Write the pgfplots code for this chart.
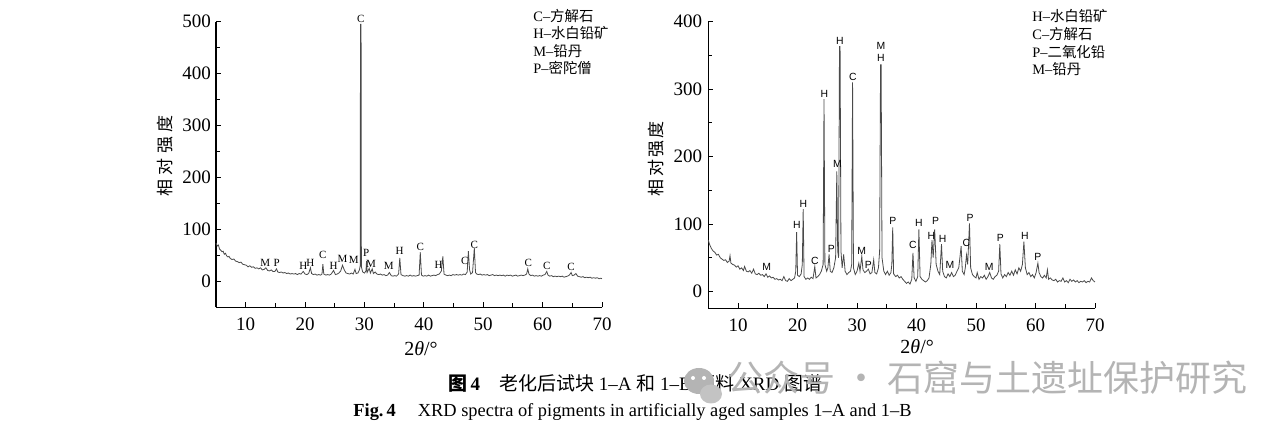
\documentclass[border=0pt]{standalone}
\usepackage{fontspec}
\setmainfont{Liberation Serif}
\newfontfamily\cjk{Noto Sans CJK SC}
\newfontfamily\cjkA[LetterSpace=25]{Noto Sans CJK SC}
\newfontfamily\cjkB[LetterSpace=12]{Noto Sans CJK SC}
\newfontfamily\arial{Liberation Sans}
\usepackage{pgfplots}
\pgfplotsset{compat=1.18}
\definecolor{plotgray}{HTML}{4A4A4A}
\definecolor{wmgray}{HTML}{B4B4B4}

\tikzset{
  lblL/.style={font=\fontsize{5.5}{6}\selectfont, inner sep=0pt},
  lblR/.style={font=\arial\fontsize{5.2}{6}\selectfont, inner sep=0pt},
  leg/.style={font=\fontsize{7.2}{8}\selectfont, inner sep=0pt, anchor=west},
}
\pgfplotsset{
  xrd/.style={
    scale only axis,
    axis x line=bottom, axis y line=left,
    axis line style={-, line width=0.6pt},
    xmin=5, xmax=70,
    xtick={10,20,...,70}, minor xtick={15,25,...,65},
    tick align=inside,
    major tick length=2.5pt, minor tick length=2pt,
    tick style={line width=0.5pt, black},
    ticklabel style={font=\fontsize{9.5}{10}\selectfont},
    xticklabel style={yshift=-2pt},
    /pgf/number format/assume math mode=true,
    xlabel={2\textit{θ}/°},
    xlabel style={font=\fontsize{10}{11}\selectfont, anchor=center},
    ylabel style={anchor=center},
    clip=false,
  },
}

\begin{document}
\begin{tikzpicture}
\path (0,0) rectangle (640pt,-215.5pt);

% ---- 1-A ----
\begin{axis}[xrd,
    at={(108pt,-153.65pt)}, anchor=south west,
    width=193pt, height=142.8pt,
    ymin=-50, ymax=500,
    ytick={0,100,...,500}, minor ytick={50,150,...,450},
    yticklabel style={xshift=1pt},
    xlabel style={at={(axis description cs:0.531,-0.146)}},
    ylabel={\cjkA\fontsize{8.5}{9}\selectfont 相对强度},
    ylabel style={at={(axis description cs:-0.132,0.530)}},
]
\addplot[color=plotgray, line width=0.4pt] table {
5.0 74
5.2 68
5.4 70
5.6 62
5.8 60
6.0 57
6.2 58
6.4 52
6.6 54
6.8 49
7.0 47
7.2 48
7.4 44
7.7 42
8.0 43
8.3 39
8.6 38
8.9 36
9.2 37
9.5 33
9.8 32
10.1 31
10.4 28
10.7 30
11.0 27
11.3 28
11.6 25
11.9 26
12.2 24
12.5 26
12.8 22
13.1 23
13.4 26
13.7 21
14.0 20
14.3 22
14.6 19
14.9 19
15.2 24
15.4 18
15.7 17
16.0 18
16.3 16
16.6 17
16.9 15
17.2 16
17.5 14
17.8 15
18.1 14
18.4 15
18.7 13
19.0 15
19.3 14
19.7 19
20.0 14
20.3 13
20.6 15
20.9 26
21.1 15
21.4 13
21.7 14
22.0 12
22.3 13
22.6 12
22.85 14
23.0 33
23.15 14
23.5 12
23.8 13
24.1 12
24.4 14
24.8 21
25.1 13
25.4 14
25.7 16
26.0 20
26.3 31
26.6 22
26.9 16
27.2 15
27.5 14
27.8 16
28.1 14
28.4 23
28.6 15
28.9 16
29.15 22
29.28 30
29.33 495
29.43 495
29.48 28
29.7 18
30.0 16
30.25 20
30.35 39
30.45 17
30.8 25
31.0 16
31.3 24
31.5 15
31.8 18
32.1 14
32.4 13
32.7 14
33.0 12
33.3 13
33.6 11
33.9 12
34.2 17
34.5 11
34.8 10
35.1 11
35.4 10
35.75 14
35.95 45
36.15 13
36.5 11
36.8 10
37.1 11
37.4 10
37.7 12
38.0 10
38.3 11
38.6 10
38.9 11
39.2 12
39.4 56
39.6 12
39.9 10
40.2 11
40.5 10
40.8 12
41.1 10
41.4 11
41.7 12
42.0 11
42.3 13
42.6 14
42.95 20
43.2 48
43.4 14
43.7 12
44.0 11
44.3 12
44.6 11
44.9 13
45.2 12
45.5 13
45.8 12
46.1 13
46.4 12
46.7 14
47.0 13
47.3 18
47.5 58
47.7 22
47.9 14
48.2 17
48.5 64
48.7 17
48.9 14
49.2 13
49.5 14
49.8 12
50.1 13
50.4 12
50.7 13
51.0 11
51.3 12
51.6 13
51.9 11
52.2 12
52.5 11
52.8 12
53.1 11
53.4 12
53.7 10
54.0 12
54.3 11
54.6 12
54.9 10
55.2 11
55.5 12
55.8 10
56.1 11
56.4 12
56.7 11
57.0 12
57.3 14
57.5 24
57.7 14
58.0 11
58.3 12
58.6 10
58.9 11
59.2 10
59.5 11
59.8 10
60.1 12
60.4 13
60.7 19
60.9 12
61.2 10
61.5 11
61.8 9
62.1 10
62.4 9
62.7 10
63.0 9
63.3 10
63.6 8
63.9 9
64.2 10
64.5 12
64.8 17
65.0 11
65.3 12
65.6 15
65.9 10
66.2 9
66.5 8
66.8 9
67.1 7
67.4 8
67.7 7
68.0 8
68.3 6
68.6 7
68.9 6
69.2 7
69.5 5
69.8 6
70.0 5
};
\node[lblL] at (axis cs:29.4,506) {C};
\node[lblL] at (axis cs:13.3,36) {M};
\node[lblL] at (axis cs:15.2,36) {P};
\node[lblL] at (axis cs:19.7,30) {H};
\node[lblL] at (axis cs:20.9,36) {H};
\node[lblL] at (axis cs:23.0,50) {C};
\node[lblL] at (axis cs:24.8,30) {H};
\node[lblL] at (axis cs:26.3,44) {M};
\node[lblL] at (axis cs:28.2,42) {M};
\node[lblL] at (axis cs:30.3,54) {P};
\node[lblL] at (axis cs:31.1,33) {M};
\node[lblL] at (axis cs:34.1,30) {M};
\node[lblL] at (axis cs:35.9,59) {H};
\node[lblL] at (axis cs:39.4,67) {C};
\node[lblL] at (axis cs:42.5,32) {H};
\node[lblL] at (axis cs:46.9,40) {C};
\node[lblL] at (axis cs:48.5,70) {C};
\node[lblL] at (axis cs:57.6,36) {C};
\node[lblL] at (axis cs:60.7,29) {C};
\node[lblL] at (axis cs:64.8,27) {C};
\end{axis}

% ---- 1-B ----
\begin{axis}[xrd,
    at={(354.15pt,-154.15pt)}, anchor=south west,
    width=193.35pt, height=143.3pt,
    ymin=-25, ymax=400,
    ytick={0,100,...,400}, minor ytick={50,150,...,350},
    yticklabel style={xshift=0.5pt},
    xlabel style={at={(axis description cs:0.54,-0.135)}},
    ylabel={\cjkB\fontsize{8.5}{9}\selectfont 相对强度},
    ylabel style={at={(axis description cs:-0.135,0.521)}},
]
\addplot[color=plotgray, line width=0.4pt] table {
5.0 76
5.2 70
5.5 64
5.8 60
6.1 58
6.4 54
6.7 55
7.0 50
7.3 48
7.6 46
7.9 47
8.2 43
8.5 45
8.65 53
8.8 42
9.1 40
9.4 39
9.7 36
10.0 38
10.3 33
10.6 35
10.9 31
11.1 37
11.4 30
11.7 29
12.0 31
12.3 27
12.6 33
12.9 26
13.2 25
13.5 27
13.8 24
14.1 25
14.4 22
14.7 26
15.0 21
15.3 23
15.6 20
15.9 21
16.2 18
16.5 19
16.8 17
17.1 18
17.4 16
17.7 22
18.0 16
18.3 15
18.6 19
18.9 16
19.2 18
19.5 20
19.7 30
19.85 88
20.0 24
20.3 22
20.6 26
20.8 40
20.95 122
21.1 22
21.4 18
21.7 20
22.0 18
22.3 21
22.6 19
22.9 37
23.1 20
23.4 22
23.7 25
24.0 30
24.3 40
24.45 285
24.6 40
24.9 30
25.1 35
25.3 55
25.5 30
25.8 28
26.1 35
26.4 50
26.6 178
26.75 60
26.9 50
27.05 363
27.15 363
27.3 60
27.5 35
27.75 55
28.0 30
28.3 25
28.6 28
28.9 30
29.1 40
29.25 310
29.4 35
29.7 25
30.0 30
30.3 42
30.5 30
30.8 52
31.0 32
31.3 28
31.6 30
31.9 33
32.2 26
32.5 28
32.8 47
33.0 28
33.3 26
33.6 35
33.8 60
33.95 336
34.05 336
34.2 50
34.5 30
34.8 25
35.1 30
35.4 24
35.7 28
35.85 40
36.0 95
36.15 26
36.5 22
36.8 24
37.1 20
37.4 22
37.7 18
38.0 15
38.3 12
38.6 14
38.9 11
39.2 18
39.4 57
39.6 20
39.9 15
40.2 22
40.4 92
40.6 22
40.9 18
41.2 16
41.5 14
41.8 16
42.1 20
42.4 40
42.6 76
42.8 50
43.05 92
43.3 40
43.6 30
43.9 25
44.2 70
44.4 30
44.7 22
45.0 20
45.3 26
45.6 22
45.9 28
46.2 22
46.5 24
46.8 30
47.1 35
47.5 67
47.7 30
48.0 25
48.2 35
48.4 54
48.6 40
48.9 101
49.1 35
49.4 25
49.7 22
50.0 20
50.2 28
50.5 18
50.8 22
51.1 20
51.4 24
51.7 18
52.0 22
52.3 28
52.6 20
52.9 18
53.2 22
53.5 24
53.8 30
54.0 70
54.2 26
54.5 20
54.8 25
55.1 22
55.4 28
55.7 24
56.0 30
56.3 24
56.6 32
56.9 26
57.2 35
57.5 30
57.8 40
58.05 74
58.3 35
58.6 25
58.9 28
59.2 22
59.5 25
59.8 20
60.1 28
60.4 42
60.6 28
60.9 22
61.2 20
61.5 24
61.8 20
62.0 32
62.2 18
62.5 20
62.8 17
63.1 16
63.4 18
63.7 14
64.0 16
64.3 15
64.6 20
64.9 14
65.2 16
65.5 13
65.8 18
66.1 15
66.4 17
66.7 14
67.0 16
67.3 13
67.6 15
67.9 14
68.2 16
68.5 13
68.8 15
69.1 14
69.4 20
69.7 16
70.0 14
};
\node[lblR] at (axis cs:14.8,36) {M};
\node[lblR] at (axis cs:19.9,98) {H};
\node[lblR] at (axis cs:21.0,130) {H};
\node[lblR] at (axis cs:22.9,45) {C};
\node[lblR] at (axis cs:24.5,293) {H};
\node[lblR] at (axis cs:25.7,63) {P};
\node[lblR] at (axis cs:26.7,189) {M};
\node[lblR] at (axis cs:27.1,371) {H};
\node[lblR] at (axis cs:29.3,318) {C};
\node[lblR] at (axis cs:30.8,60) {M};
\node[lblR] at (axis cs:31.9,39) {P};
\node[lblR] at (axis cs:34.0,364) {M};
\node[lblR] at (axis cs:34.0,347) {H};
\node[lblR] at (axis cs:36.0,104) {P};
\node[lblR] at (axis cs:39.4,69) {C};
\node[lblR] at (axis cs:40.4,102) {H};
\node[lblR] at (axis cs:42.5,83) {H};
\node[lblR] at (axis cs:43.2,105) {P};
\node[lblR] at (axis cs:44.4,78) {H};
\node[lblR] at (axis cs:45.6,39) {M};
\node[lblR] at (axis cs:48.4,72) {C};
\node[lblR] at (axis cs:49.0,109) {P};
\node[lblR] at (axis cs:52.2,36) {M};
\node[lblR] at (axis cs:54.1,79) {P};
\node[lblR] at (axis cs:58.2,83) {H};
\node[lblR] at (axis cs:60.4,51) {P};
\end{axis}

\begin{scope}[x=0.5pt, y=-0.5pt]
% legends
\node[leg] at (533,16) {C–{\cjk 方解石}};
\node[leg] at (533,33) {H–{\cjk 水白铅矿}};
\node[leg] at (533,51) {M–{\cjk 铅丹}};
\node[leg] at (533,68) {P–{\cjk 密陀僧}};
\node[leg] at (1032,16) {H–{\cjk 水白铅矿}};
\node[leg] at (1032,34) {C–{\cjk 方解石}};
\node[leg] at (1032,52) {P–{\cjk 二氧化铅}};
\node[leg] at (1032,69) {M–{\cjk 铅丹}};
% captions
\node[anchor=west, inner sep=0pt, font=\fontsize{9.5}{10}\selectfont] at (448,383)
  {\textbf{{\cjk 图}\,4}\hspace{1em}{\cjk 老化后试块} 1–A {\cjk 和} 1–B {\cjk 颜料} XRD {\cjk 图谱}};
\node[anchor=west, inner sep=0pt, font=\fontsize{9.2}{10}\selectfont] at (353,412)
  {\textbf{Fig.\,4}\hspace{1.2em}XRD spectra of pigments in artificially aged samples 1–A and 1–B};
% watermark
\fill[wmgray] (699,381) ellipse (15 and 13);
\fill[wmgray!80] (711,394) ellipse (11 and 9.5);
\fill[white] (693,378) circle (2);
\fill[white] (704,378) circle (2);
\node[anchor=west, inner sep=0pt, text=wmgray, font=\cjk\fontsize{18}{20}\selectfont] at (727,378)
  {公众号 · 石窟与土遗址保护研究};
\end{scope}
\end{tikzpicture}
\end{document}
